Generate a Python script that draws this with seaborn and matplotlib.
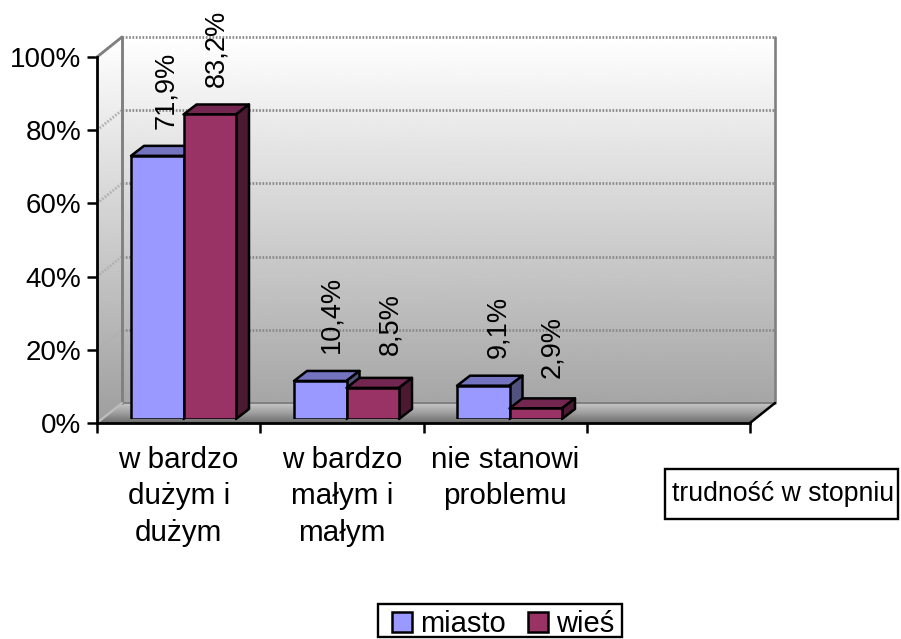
import numpy as np
import pandas as pd
import seaborn as sns
import matplotlib.pyplot as plt
from matplotlib.patches import Polygon, Patch, Rectangle

# values
categories = ['w bardzo\ndużym i\ndużym', 'w bardzo\nmałym i\nmałym', 'nie stanowi\nproblemu']
miasto = [71.9, 10.4, 9.1]
wies = [83.2, 8.5, 2.9]
labels_miasto = ['71,9%', '10,4%', '9,1%']
labels_wies = ['83,2%', '8,5%', '2,9%']
y_ticks = [0, 20, 40, 60, 80, 100]

colors = {'miasto': '#9999FF', 'wieś': '#993366'}
top_colors = {'miasto': '#7373BF', 'wieś': '#732650'}
side_colors = {'miasto': '#52527F', 'wieś': '#4C1933'}

# pixel shifts of the data labels from the bar's front top centre (x, y)
shift_miasto = [(9, 27), (11, 28), (15, 28)]
shift_wies = [(7, 27), (18, 33), (16, 30)]

W, H = 901, 639


def px_rect(left, bottom, width, height):
    return [left / W, (H - bottom) / H, width / W, height / H]


sns.set_theme(style='white')
plt.rcParams['font.family'] = ['Liberation Sans', 'DejaVu Sans']

df = pd.DataFrame({
    'kategoria': categories * 2,
    'udzial': miasto + wies,
    'obszar': ['miasto'] * 3 + ['wieś'] * 3,
})

fig = plt.figure(figsize=(W / 100, H / 100), dpi=100, facecolor='white')

# axis frame with walls, bars go in a second axes shifted a bit into the depth
base = fig.add_axes(px_rect(97, 423, 653, 366))
ax = fig.add_axes(px_rect(102, 419, 652, 366))
ax.patch.set_alpha(0)

unit_x = 653 / 4
unit_y = 366 / 100
wall_dx = 25 / unit_x
wall_dy = 20 / unit_y
x0, x1 = -0.5, 3.5


def gradient(axes, stops, poly_xy, y_lo, y_hi):
    poly = Polygon(poly_xy, closed=True, fc='none', ec='none', clip_on=False)
    axes.add_patch(poly)
    ys = np.linspace(0, 1, 200)
    img = np.interp(ys, np.linspace(0, 1, len(stops)), stops).reshape(-1, 1)
    im = axes.imshow(img, cmap='gray', vmin=0, vmax=1, origin='lower', aspect='auto',
                     extent=(x0, x1 + wall_dx, y_lo, y_hi), zorder=0.5)
    im.set_clip_box(fig.bbox)
    im.set_clip_path(poly)


# back wall, side wall, floor
gradient(base, [0.65, 1.0],
         [(x0 + wall_dx, wall_dy), (x1 + wall_dx, wall_dy), (x1 + wall_dx, 100 + wall_dy), (x0 + wall_dx, 100 + wall_dy)],
         wall_dy, 100 + wall_dy)
gradient(base, [0.62, 1.0],
         [(x0, 0), (x0 + wall_dx, wall_dy), (x0 + wall_dx, 100 + wall_dy), (x0, 100)],
         0, 100 + wall_dy)
gradient(base, [0.42, 0.62, 0.78],
         [(x0, 0), (x1, 0), (x1 + wall_dx, wall_dy), (x0 + wall_dx, wall_dy)],
         0, wall_dy)

# gridlines
for v in y_ticks[1:]:
    base.plot([x0 + wall_dx, x1 + wall_dx], [v + wall_dy] * 2, color='#8a8a8a', lw=2, ls=(0, (0.6, 0.6)),
              zorder=1, clip_on=False)
    base.plot([x0, x0 + wall_dx], [v, v + wall_dy], color='#b0b0b0', lw=2, ls=(0, (0.6, 0.6)),
              zorder=1, clip_on=False)

# wall edges
wall_edge = '#808080'
base.plot([x0 + wall_dx] * 2, [wall_dy, 100 + wall_dy], color=wall_edge, lw=2.1, zorder=1.2, clip_on=False)
base.plot([x0 + wall_dx, x1 + wall_dx], [wall_dy] * 2, color=wall_edge, lw=1.4, zorder=1.2, clip_on=False)
base.plot([x1 + wall_dx] * 2, [wall_dy, 100 + wall_dy], color=wall_edge, lw=1.9, zorder=1.2, clip_on=False)
base.plot([x0, x0 + wall_dx], [100, 100 + wall_dy], color=wall_edge, lw=2, zorder=1.2, clip_on=False)
base.plot([x0, x0 + wall_dx], [0, wall_dy], color='#bdbdbd', lw=1.6, zorder=1.2, clip_on=False)
base.plot([x1, x1 + wall_dx], [0, wall_dy], color='black', lw=1.8, zorder=1.2, clip_on=False)

base.set_xlim(x0, x1)
base.set_ylim(0, 100)
base.set_yticks(y_ticks)
base.set_yticklabels([f'{v}%' for v in y_ticks], fontsize=20, color='black')
base.set_xticks(np.arange(x0, x1 + 0.5, 1))
base.set_xticklabels([])
base.set_xticks([0, 1, 2], minor=True)
base.set_xticklabels(categories, minor=True, fontsize=21.3, color='black', linespacing=1.39)
base.tick_params(axis='both', which='major', length=7, width=1.8, color='black', direction='out',
                 bottom=True, left=True, pad=4.5)
base.tick_params(axis='x', which='minor', length=0, pad=16.5)
for name, spine in base.spines.items():
    spine.set_visible(name in ('left', 'bottom'))
    spine.set_color('black')
    spine.set_linewidth(2)
base.patch.set_alpha(0)

# bars
sns.barplot(data=df, x='kategoria', y='udzial', hue='obszar', palette=colors, width=0.644, gap=0,
            saturation=1, edgecolor='black', linewidth=1.8, legend=False, ax=ax)
ax.set_xlim(x0, x1)
ax.set_ylim(0, 100)
ax.axis('off')

bar_dx = 13 / (652 / 4)
bar_dy = 10 / unit_y
for n, (name, container) in enumerate(zip(['miasto', 'wieś'], ax.containers)):
    z = 3 + n * 3
    for bar in container:
        bx, bw, bh = bar.get_x(), bar.get_width(), bar.get_height()
        top = [(bx, bh), (bx + bw, bh), (bx + bw + bar_dx, bh + bar_dy), (bx + bar_dx, bh + bar_dy)]
        side = [(bx + bw, 0), (bx + bw + bar_dx, bar_dy), (bx + bw + bar_dx, bh + bar_dy), (bx + bw, bh)]
        ax.add_patch(Polygon(top, closed=True, fc=top_colors[name], ec='black', lw=1.8, joinstyle='round',
                             zorder=z, clip_on=False))
        ax.add_patch(Polygon(side, closed=True, fc=side_colors[name], ec='black', lw=1.8, joinstyle='round',
                             zorder=z, clip_on=False))
        bar.set_zorder(z + 1)

# data labels
for container, texts, shifts in zip(ax.containers, [labels_miasto, labels_wies], [shift_miasto, shift_wies]):
    for bar, text, (sx, sy) in zip(container, texts, shifts):
        ax.annotate(text, (bar.get_x() + bar.get_width() / 2, bar.get_height()),
                    xytext=(sx * 0.72, sy * 0.72), textcoords='offset points',
                    rotation=90, ha='center', va='bottom', fontsize=19.5, color='black',
                    annotation_clip=False, zorder=20)

# axis title box
fig.add_artist(Rectangle((665 / W, 1 - 519 / H), 233 / W, 50 / H, transform=fig.transFigure,
                         fc='white', ec='black', lw=1.7))
fig.text(783 / W, 1 - 494 / H, 'trudność w stopniu', ha='center', va='center', fontsize=19.2, color='black')

# legend
fig.add_artist(Rectangle((378 / W, 1 - 637 / H), 244 / W, 33 / H, transform=fig.transFigure,
                         fc='white', ec='black', lw=1.7))
handles = [Patch(fc=colors[k], ec='black', lw=1.8, label=k) for k in colors]
leg = fig.legend(handles=handles, ncol=2, loc='lower left', bbox_to_anchor=(392 / W, 1 - 638 / H),
                 fontsize=21, frameon=False, handlelength=0.69, handleheight=0.69, handletextpad=0.28,
                 columnspacing=0.76, borderpad=0, borderaxespad=0, labelcolor='black')

fig.savefig('out.png', dpi=100)
